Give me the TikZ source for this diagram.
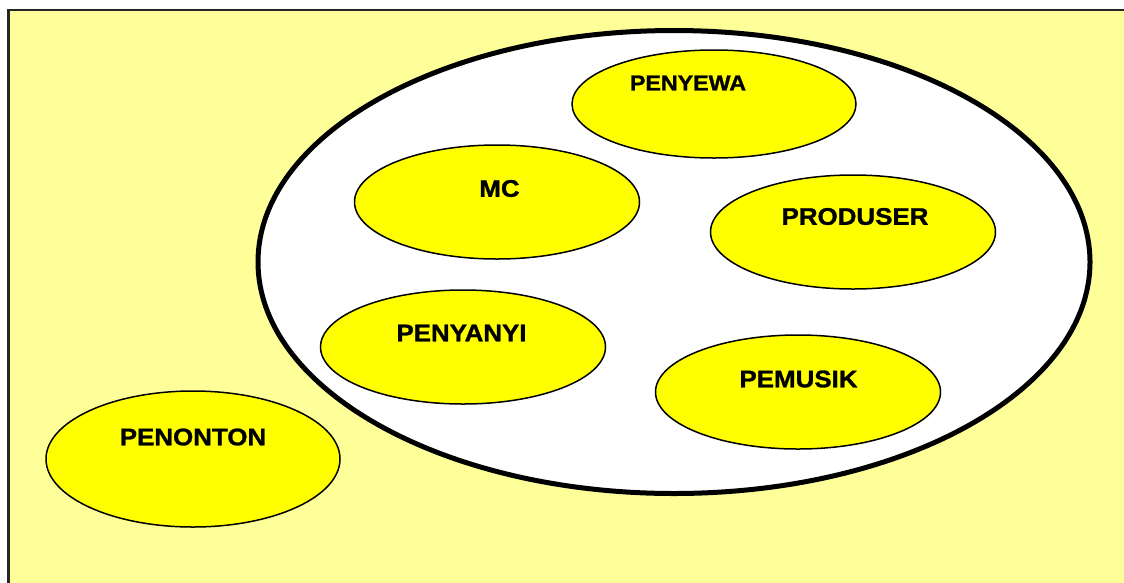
\documentclass[tikz,border=0pt]{standalone}
\usepackage{fontspec}
\setmainfont{Liberation Sans}
\newfontfamily\labfont{Liberation Sans}[FakeStretch=1.08,BoldFeatures={FakeBold=1.2}]
\usetikzlibrary{shapes.geometric}
\definecolor{bgyellow}{HTML}{FFFF99}
\definecolor{ovyellow}{HTML}{FFFF00}
\tikzset{
  role/.style={ellipse, draw=black, line width=1.5pt, fill=ovyellow, inner sep=0pt},
  lab/.style={font=\labfont\bfseries\fontsize{24}{24}\selectfont, inner sep=0pt, text=black},
}
\begin{document}
\begin{tikzpicture}[x=1pt,y=-1pt]
\useasboundingbox (0,0) rectangle (1124,582);
\fill[white] (0,0) rectangle (1124,582);
\draw[fill=bgyellow, draw=black!85, line width=2.5pt] (8.7,10) rectangle (1140,600);
\node[ellipse, draw=black, line width=5pt, fill=white, inner sep=0pt,
      minimum width=832pt, minimum height=463pt] (group) at (674,262) {};
\node[role, minimum width=284pt, minimum height=108pt] (penyewa) at (714,104) {};
\node[role, minimum width=285pt, minimum height=114pt] (mc) at (497,202) {};
\node[role, minimum width=285pt, minimum height=114pt] (produser) at (853,232) {};
\node[role, minimum width=285pt, minimum height=114pt] (penyanyi) at (463,347) {};
\node[role, minimum width=285pt, minimum height=114pt] (pemusik) at (798,392) {};
\node[role, minimum width=294pt, minimum height=136pt] (penonton) at (193,459) {};
\node[lab, font=\labfont\bfseries\fontsize{21.5}{21.5}\selectfont] (tpenyewa) at (688,83) {PENYEWA};
\node[lab] (tmc) at (499.5,188.5) {MC};
\node[lab] (tprodu) at (855,216.5) {PRODUSER};
\node[lab] (tpenyanyi) at (461.5,333) {PENYANYI};
\node[lab] (tpemusik) at (798.5,379) {PEMUSIK};
\node[lab] (tpenonton) at (193,437) {PENONTON};
\end{tikzpicture}
\end{document}
